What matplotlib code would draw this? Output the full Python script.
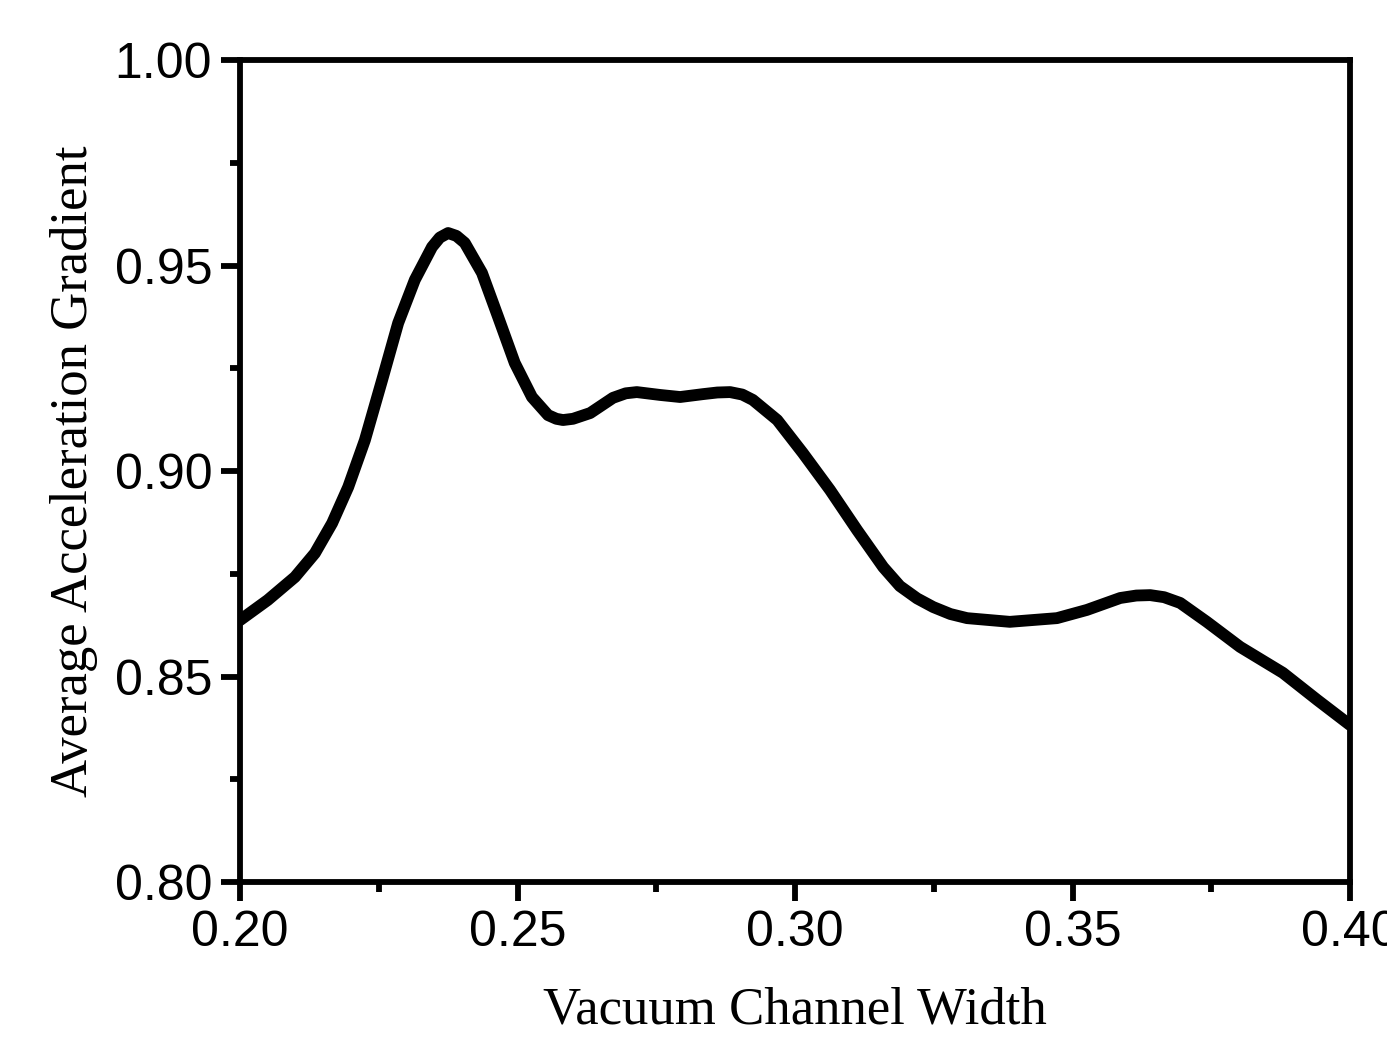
import matplotlib
matplotlib.use("Agg")
import matplotlib.pyplot as plt
from matplotlib.ticker import MultipleLocator

# 読み取ったデータ (Vacuum Channel Width vs Average Acceleration Gradient)
width = [0.2000, 0.2050, 0.2099, 0.2135, 0.2166, 0.2195, 0.2225, 0.2256, 0.2285,
         0.2315, 0.2346, 0.2360, 0.2375, 0.2390, 0.2405, 0.2436, 0.2465, 0.2495,
         0.2526, 0.2555, 0.2570, 0.2582, 0.2600, 0.2631, 0.2672, 0.2695, 0.2715,
         0.2757, 0.2793, 0.2834, 0.2860, 0.2883, 0.2905, 0.2924, 0.2968, 0.3014,
         0.3063, 0.3112, 0.3159, 0.3189, 0.3220, 0.3249, 0.3280, 0.3310, 0.3387,
         0.3472, 0.3526, 0.3586, 0.3615, 0.3640, 0.3665, 0.3694, 0.3742, 0.3802,
         0.3879, 0.3941, 0.4000]
gradient = [0.8637, 0.8686, 0.8742, 0.8800, 0.8873, 0.8961, 0.9075, 0.9221, 0.9360,
            0.9465, 0.9545, 0.9568, 0.9579, 0.9572, 0.9555, 0.9482, 0.9375, 0.9263,
            0.9180, 0.9136, 0.9127, 0.9124, 0.9127, 0.9141, 0.9178, 0.9189, 0.9192,
            0.9185, 0.9180, 0.9187, 0.9191, 0.9192, 0.9186, 0.9173, 0.9124, 0.9044,
            0.8954, 0.8856, 0.8766, 0.8720, 0.8690, 0.8669, 0.8652, 0.8642, 0.8633,
            0.8642, 0.8662, 0.8691, 0.8697, 0.8698, 0.8693, 0.8679, 0.8633, 0.8572,
            0.8509, 0.8443, 0.8382]

fig = plt.figure(figsize=(13.87, 10.38), dpi=100)
ax = fig.add_axes([240/1387, 156/1038, 1110/1387, 822/1038])

ax.plot(width, gradient, color='black', linewidth=8.5, solid_capstyle='round',
        solid_joinstyle='round')

ax.set_xlim(0.20, 0.40)
ax.set_ylim(0.80, 1.00)
ax.xaxis.set_major_locator(MultipleLocator(0.05))
ax.xaxis.set_minor_locator(MultipleLocator(0.025))
ax.yaxis.set_major_locator(MultipleLocator(0.05))
ax.yaxis.set_minor_locator(MultipleLocator(0.025))
ax.xaxis.set_major_formatter(plt.FormatStrFormatter('%.2f'))
ax.yaxis.set_major_formatter(plt.FormatStrFormatter('%.2f'))

for s in ax.spines.values():
    s.set_linewidth(4.2)

ax.tick_params(which='major', direction='out', length=14, width=4.2, pad=6,
               labelsize=36, top=False, right=False)
ax.tick_params(which='minor', direction='out', length=7, width=4.2,
               top=False, right=False)
for lab in ax.get_xticklabels() + ax.get_yticklabels():
    lab.set_fontfamily('Liberation Sans')

ax.set_xlabel('Vacuum Channel Width', fontsize=38, fontfamily='Liberation Serif',
              labelpad=22)
ax.set_ylabel('Average Acceleration Gradient', fontsize=38,
              fontfamily='Liberation Serif', labelpad=12)

fig.savefig('out.png', dpi=100)
